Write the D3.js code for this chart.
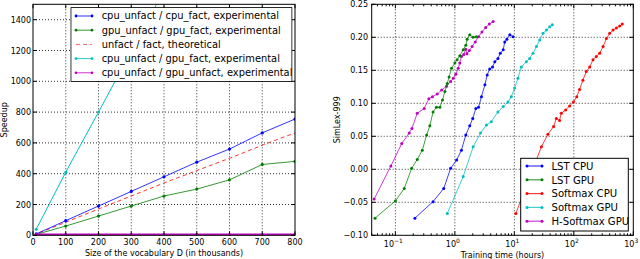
<!DOCTYPE html>
<html>
<head>
<meta charset="utf-8">
<script src="https://cdn.jsdelivr.net/npm/d3@7"></script>
<style>
  body { margin: 0; background: #fff; }
  svg { display: block; font-family: "DejaVu Sans", sans-serif; }
</style>
</head>
<body>
<svg id="chart" width="640" height="259"></svg>
<script>
// ---- left panel data: speedup vs vocabulary size (thousands)
var vocabSizes = [10, 100, 200, 300, 400, 500, 600, 700, 800]
var cpuCpu = [9, 95, 190, 285, 380, 475, 560, 665, 755]
var gpuGpu = [6, 60, 125, 190, 255, 300, 360, 460, 480]
var theorySizes = [0, 100, 200, 300, 400, 500, 600, 700, 800]
var theory = [0, 85, 171, 255, 340, 420, 500, 585, 665]
var cpuGpu = [40, 410, 800, 1195, 1590, 1985, 2380, 2775, 3170]
var cpuGpuUnf = [5, 6, 6, 6, 6, 6, 6, 6, 6]
var leftYTicks = [0, 200, 400, 600, 800, 1000, 1200, 1400]
var leftXTicks = [0, 100, 200, 300, 400, 500, 600, 700, 800]

// ---- right panel data: SimLex-999 vs training time (hours)
var lstCpuX = [0.213, 0.43, 0.65, 0.85, 1.07, 1.29, 1.53, 1.78, 2.0, 2.25, 2.5, 2.8, 3.2, 3.5, 3.85, 4.3, 4.7, 5.3, 5.8, 6.5, 6.9, 7.5, 8.4, 9.5]
var lstCpuY = [-0.074, -0.049, -0.029, 0.0015, 0.014, 0.029, 0.052, 0.066, 0.077, 0.092, 0.094, 0.110, 0.128, 0.143, 0.152, 0.155, 0.163, 0.168, 0.176, 0.181, 0.193, 0.197, 0.204, 0.201]
var lstGpuX = [0.0455, 0.1, 0.141, 0.188, 0.233, 0.284, 0.335, 0.38, 0.43, 0.49, 0.56, 0.62, 0.68, 0.745, 0.80, 0.88, 1.0, 1.09, 1.21, 1.38, 1.53, 1.61, 1.78, 2.03, 2.3]
var lstGpuY = [-0.074, -0.048, -0.029, 0.0015, 0.015, 0.029, 0.052, 0.066, 0.087, 0.094, 0.094, 0.105, 0.118, 0.130, 0.140, 0.153, 0.161, 0.166, 0.172, 0.181, 0.188, 0.197, 0.204, 0.200, 0.201]
var smCpuX = [10.6, 28.5, 36.7, 45.8, 50.8, 57.6, 61.6, 72.8, 85, 98.6, 112, 125, 142, 162, 185, 210, 239, 272, 310, 353, 401, 457, 519, 590, 654]
var smCpuY = [-0.067, 0.034, 0.053, 0.065, 0.077, 0.074, 0.085, 0.090, 0.096, 0.102, 0.110, 0.121, 0.135, 0.148, 0.155, 0.166, 0.171, 0.176, 0.186, 0.198, 0.206, 0.211, 0.214, 0.217, 0.220]
var smGpuX = [0.745, 1.38, 2.03, 2.7, 3.4, 4.1, 5.3, 6.5, 7.8, 8.9, 10.1, 11.5, 13.1, 15.9, 18.1, 20.6, 23.5, 26.7, 30.4, 34.6, 39.4, 43.5]
var smGpuY = [-0.067, -0.011, 0.034, 0.055, 0.067, 0.072, 0.087, 0.095, 0.102, 0.110, 0.123, 0.138, 0.155, 0.163, 0.168, 0.176, 0.186, 0.196, 0.206, 0.211, 0.216, 0.219]
var hsmGpuX = [0.044, 0.084, 0.128, 0.171, 0.19, 0.233, 0.305, 0.366, 0.42, 0.505, 0.60, 0.725, 0.85, 0.94, 1.04, 1.14, 1.21, 1.29, 1.41, 1.52, 1.6, 1.75, 1.95, 2.2, 2.5, 2.85, 3.3, 3.8, 4.4]
var hsmGpuY = [-0.045, 0.005, 0.039, 0.055, 0.062, 0.085, 0.092, 0.107, 0.110, 0.114, 0.120, 0.126, 0.133, 0.138, 0.144, 0.153, 0.161, 0.171, 0.174, 0.182, 0.175, 0.180, 0.186, 0.193, 0.201, 0.208, 0.215, 0.220, 0.224]
var rightYTicks = [-0.10, -0.05, 0.00, 0.05, 0.10, 0.15, 0.20, 0.25]
var rightXTicks = [0.1, 1, 10, 100, 1000]

var svg = d3.select("#chart")

var left = { x0: 33, x1: 295, y0: 235.3, y1: 4.3 }
var right = { x0: 371.7, x1: 633.3, y0: 235.3, y1: 4.3 }

var xL = d3.scaleLinear().domain([0, 800]).range([left.x0, left.x1])
var yL = d3.scaleLinear().domain([0, 1500]).range([left.y0, left.y1])
var xR = d3.scaleLog().domain([0.04, 1000]).range([right.x0, right.x1])
var yR = d3.scaleLinear().domain([-0.1, 0.25]).range([right.y0, right.y1])

var defs = svg.append("defs")
defs.append("clipPath").attr("id", "clipL").append("rect")
    .attr("x", left.x0).attr("y", left.y1)
    .attr("width", left.x1 - left.x0).attr("height", left.y0 - left.y1)
defs.append("clipPath").attr("id", "clipR").append("rect")
    .attr("x", right.x0).attr("y", right.y1)
    .attr("width", right.x1 - right.x0).attr("height", right.y0 - right.y1)

function frame(box, xs, ys, xTicks, yTicks) {
    var g = svg.append("g")
    // dotted grid at the major ticks
    xTicks.forEach(function(t) {
        var px = xs(t)
        if (Math.abs(px - box.x0) < 1 || Math.abs(px - box.x1) < 1) return
        g.append("line").attr("x1", px).attr("x2", px).attr("y1", box.y0).attr("y2", box.y1)
            .attr("stroke", "#000").attr("stroke-width", 0.8).attr("stroke-dasharray", "1,2")
    })
    yTicks.forEach(function(t) {
        var py = ys(t)
        if (Math.abs(py - box.y0) < 1 || Math.abs(py - box.y1) < 1) return
        g.append("line").attr("x1", box.x0).attr("x2", box.x1).attr("y1", py).attr("y2", py)
            .attr("stroke", "#000").attr("stroke-width", 0.8).attr("stroke-dasharray", "1,2")
    })
    return g
}

function ticksAndBorder(box, xs, ys, xTicks, yTicks, minorX) {
    var g = svg.append("g")
    xTicks.forEach(function(t) {
        var px = xs(t)
        g.append("line").attr("x1", px).attr("x2", px).attr("y1", box.y0).attr("y2", box.y0 - 4).attr("stroke", "#000")
        g.append("line").attr("x1", px).attr("x2", px).attr("y1", box.y1).attr("y2", box.y1 + 4).attr("stroke", "#000")
    })
    ;(minorX || []).forEach(function(t) {
        var px = xs(t)
        g.append("line").attr("x1", px).attr("x2", px).attr("y1", box.y0).attr("y2", box.y0 - 2).attr("stroke", "#000")
        g.append("line").attr("x1", px).attr("x2", px).attr("y1", box.y1).attr("y2", box.y1 + 2).attr("stroke", "#000")
    })
    yTicks.forEach(function(t) {
        var py = ys(t)
        g.append("line").attr("x1", box.x0).attr("x2", box.x0 + 4).attr("y1", py).attr("y2", py).attr("stroke", "#000")
        g.append("line").attr("x1", box.x1).attr("x2", box.x1 - 4).attr("y1", py).attr("y2", py).attr("stroke", "#000")
    })
    g.append("rect").attr("x", box.x0).attr("y", box.y1)
        .attr("width", box.x1 - box.x0).attr("height", box.y0 - box.y1)
        .attr("fill", "none").attr("stroke", "#000").attr("stroke-width", 1)
}

function series(clip, xs, ys, xv, yv, color, opts) {
    opts = opts || {}
    var pts = xv.map(function(d, i) { return [xs(d), ys(yv[i])] })
    var g = svg.append("g").attr("clip-path", "url(#" + clip + ")")
    g.append("path").attr("d", d3.line()(pts))
        .attr("fill", "none").attr("stroke", color)
        .attr("stroke-width", opts.width || 1)
        .attr("stroke-dasharray", opts.dash || null)
        .attr("opacity", opts.opacity || 1)
    if (opts.r) {
        g.selectAll("circle.m").data(pts).enter().append("circle")
            .attr("cx", function(d) { return d[0] })
            .attr("cy", function(d) { return d[1] })
            .attr("r", opts.r).attr("fill", color)
    }
}

// ---------- left panel
frame(left, xL, yL, leftXTicks, leftYTicks)
series("clipL", xL, yL, vocabSizes, cpuGpu, "#00bfbf", { r: 1.5 })
series("clipL", xL, yL, theorySizes, theory, "#ff0000", { dash: "4,3", opacity: 0.8 })
series("clipL", xL, yL, vocabSizes, gpuGpu, "#008000", { r: 1.6, opacity: 0.8 })
series("clipL", xL, yL, vocabSizes, cpuCpu, "#0000ff", { r: 1.6, opacity: 0.8 })
series("clipL", xL, yL, vocabSizes, cpuGpuUnf, "#bf00bf", { r: 1.5, width: 2 })
ticksAndBorder(left, xL, yL, leftXTicks, leftYTicks)

svg.append("g").selectAll("text").data(leftYTicks).enter().append("text")
    .attr("x", 31).attr("y", function(d) { return yL(d) + 3 })
    .attr("text-anchor", "end").attr("font-size", 8).text(function(d) { return d })
svg.append("g").selectAll("text").data(leftXTicks).enter().append("text")
    .attr("x", function(d) { return xL(d) }).attr("y", 245)
    .attr("text-anchor", "middle").attr("font-size", 8).text(function(d) { return d })
svg.append("text").attr("x", (left.x0 + left.x1) / 2).attr("y", 256)
    .attr("text-anchor", "middle").attr("font-size", 8)
    .text("Size of the vocabulary D (in thousands)")
svg.append("text").attr("transform", "translate(7," + ((left.y0 + left.y1) / 2) + ") rotate(-90)")
    .attr("text-anchor", "middle").attr("font-size", 8).text("Speedup")

// left legend (last label runs past the box edge in the original)
var legL = [
    { name: "cpu_unfact / cpu_fact, experimental", color: "#0000ff", dash: null, marker: true },
    { name: "gpu_unfact / gpu_fact, experimental", color: "#008000", dash: null, marker: true },
    { name: "unfact / fact, theoretical", color: "#ff0000", dash: "4,3", marker: false },
    { name: "cpu_unfact / gpu_fact, experimental", color: "#00bfbf", dash: null, marker: true },
    { name: "cpu_unfact / gpu_unfact, experimental", color: "#bf00bf", dash: null, marker: true }
]
var lb = { x: 70.7, y: 7.3, w: 221.5, h: 74.4 }
defs.append("clipPath").attr("id", "clipLegL").append("rect")
    .attr("x", lb.x).attr("y", lb.y).attr("width", lb.w).attr("height", lb.h)
var gl = svg.append("g").attr("clip-path", "url(#clipLegL)")
gl.append("rect").attr("x", lb.x).attr("y", lb.y).attr("width", lb.w).attr("height", lb.h)
    .attr("fill", "#fff").attr("stroke", "#000")
legL.forEach(function(d, i) {
    var y = 16 + i * 14.2
    gl.append("line").attr("x1", 76).attr("x2", 92).attr("y1", y).attr("y2", y)
        .attr("stroke", d.color).attr("stroke-dasharray", d.dash).attr("opacity", d.dash ? 0.6 : 0.8)
    if (d.marker) {
        gl.append("circle").attr("cx", 76).attr("cy", y).attr("r", 1.4).attr("fill", d.color)
        gl.append("circle").attr("cx", 92).attr("cy", y).attr("r", 1.4).attr("fill", d.color)
    }
    gl.append("text").attr("x", 101.7).attr("y", y + 3.4).attr("font-size", 9.9).text(d.name)
})
gl.append("rect").attr("x", lb.x).attr("y", lb.y).attr("width", lb.w).attr("height", lb.h)
    .attr("fill", "none").attr("stroke", "#000")

// ---------- right panel
var minorR = []
;[0.01, 0.1, 1, 10, 100].forEach(function(dec) {
    for (var k = 2; k <= 9; k++) {
        var v = dec * k
        if (v >= 0.04 && v <= 1000) minorR.push(v)
    }
})
frame(right, xR, yR, rightXTicks, rightYTicks)
series("clipR", xR, yR, hsmGpuX, hsmGpuY, "#bf00bf", { r: 1.5, opacity: 0.75 })
series("clipR", xR, yR, lstGpuX, lstGpuY, "#008000", { r: 1.5, opacity: 0.75 })
series("clipR", xR, yR, lstCpuX, lstCpuY, "#0000ff", { r: 1.5, opacity: 0.75 })
series("clipR", xR, yR, smGpuX, smGpuY, "#00bfbf", { r: 1.5, opacity: 0.75 })
series("clipR", xR, yR, smCpuX, smCpuY, "#ff0000", { r: 1.5, opacity: 0.75 })
ticksAndBorder(right, xR, yR, rightXTicks, rightYTicks, minorR)

svg.append("g").selectAll("text").data(rightYTicks).enter().append("text")
    .attr("x", 368).attr("y", function(d) { return yR(d) + 3 })
    .attr("text-anchor", "end").attr("font-size", 8)
    .text(function(d) { return (d < 0 ? "\u2212" : "") + Math.abs(d).toFixed(2) })
var xtl = svg.append("g").selectAll("text").data(rightXTicks).enter().append("text")
    .attr("x", function(d) { return xR(d) - 2 }).attr("y", 247)
    .attr("text-anchor", "middle").attr("font-size", 8)
xtl.append("tspan").text("10")
xtl.append("tspan").attr("dy", -4).attr("font-size", 6)
    .text(function(d) { var e = Math.round(Math.log10(d)); return e < 0 ? "\u2212" + (-e) : e })
svg.append("text").attr("x", (right.x0 + right.x1) / 2).attr("y", 258)
    .attr("text-anchor", "middle").attr("font-size", 8).text("Training time (hours)")
svg.append("text").attr("transform", "translate(340," + ((right.y0 + right.y1) / 2) + ") rotate(-90)")
    .attr("text-anchor", "middle").attr("font-size", 8).text("SimLex-999")

// right legend
var legR = [
    { name: "LST CPU", color: "#0000ff" },
    { name: "LST GPU", color: "#008000" },
    { name: "Softmax CPU", color: "#ff0000" },
    { name: "Softmax GPU", color: "#00bfbf" },
    { name: "H-Softmax GPU", color: "#bf00bf" }
]
var gr = svg.append("g")
gr.append("rect").attr("x", 520.7).attr("y", 158.3).attr("width", 107.6).attr("height", 72.7)
    .attr("fill", "#fff").attr("stroke", "#000")
legR.forEach(function(d, i) {
    var y = 166 + i * 13.8
    gr.append("line").attr("x1", 527).attr("x2", 542).attr("y1", y).attr("y2", y)
        .attr("stroke", d.color).attr("stroke-width", 1.2).attr("opacity", 0.75)
    gr.append("circle").attr("cx", 527).attr("cy", y).attr("r", 1.5).attr("fill", d.color)
    gr.append("circle").attr("cx", 542).attr("cy", y).attr("r", 1.5).attr("fill", d.color)
    gr.append("text").attr("x", 551.5).attr("y", y + 3.8).attr("font-size", 10.1).text(d.name)
})
</script>
</body>
</html>
